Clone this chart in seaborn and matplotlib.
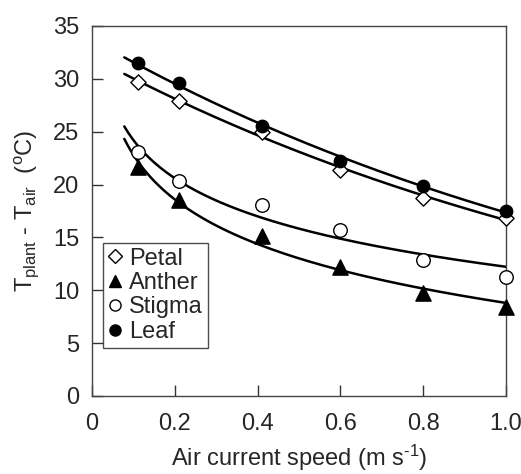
import numpy as np
import pandas as pd
import matplotlib
matplotlib.use("Agg")
import matplotlib.pyplot as plt
from matplotlib.lines import Line2D
import seaborn as sns

# Data
speed = [0.11, 0.21, 0.41, 0.60, 0.80, 1.00]
petal = [29.7, 27.9, 25.0, 21.4, 18.7, 16.8]
anther = [21.7, 18.5, 15.1, 12.2, 9.7, 8.4]
stigma = [23.1, 20.3, 18.1, 15.7, 12.9, 11.3]
leaf = [31.5, 29.6, 25.5, 22.2, 19.9, 17.5]

series_names = ["Petal", "Anther", "Stigma", "Leaf"]
series_vals = [petal, anther, stigma, leaf]
markers = {"Petal": "D", "Anther": "^", "Stigma": "o", "Leaf": "o"}
faces = {"Petal": "white", "Anther": "black", "Stigma": "white", "Leaf": "black"}
sizes = {"Petal": 60, "Anther": 120, "Stigma": 95, "Leaf": 80}
# trend type: exponential for petal/leaf, logarithmic for anther/stigma
fit_kind = {"Petal": "exp", "Anther": "log", "Stigma": "log", "Leaf": "exp"}

sns.set_style("ticks")
plt.rcParams["font.family"] = ["Liberation Sans", "DejaVu Sans"]
plt.rcParams["mathtext.fontset"] = "custom"
plt.rcParams["mathtext.rm"] = "Liberation Sans"
plt.rcParams["mathtext.it"] = "Liberation Sans:italic"
plt.rcParams["mathtext.bf"] = "Liberation Sans:bold"

FS = 17

fig = plt.figure(figsize=(5.21, 4.74), dpi=100)
ax = fig.add_axes([0.1766, 0.1646, 0.7946, 0.7806])

x = np.array(speed)
xs = np.linspace(0.078, 1.0, 200)
for name, vals in zip(series_names, series_vals):
    y = np.array(vals)
    if fit_kind[name] == "exp":
        b, a = np.polyfit(x, np.log(y), 1)
        ys = np.exp(a + b * xs)
    else:
        b, a = np.polyfit(np.log(x), y, 1)
        ys = a + b * np.log(xs)
    sns.lineplot(x=xs, y=ys, ax=ax, color="black", lw=1.8, zorder=2)

for name, vals in zip(series_names, series_vals):
    df = pd.DataFrame({"speed": speed, "dT": vals})
    sns.scatterplot(data=df, x="speed", y="dT", ax=ax, marker=markers[name],
                    s=sizes[name], facecolor=faces[name], edgecolor="black",
                    linewidth=1.0, zorder=3, clip_on=False)

ax.set_xlim(0, 1.0)
ax.set_ylim(0, 35)
ax.set_xticks([0, 0.2, 0.4, 0.6, 0.8, 1.0])
ax.set_xticklabels(["0", "0.2", "0.4", "0.6", "0.8", "1.0"])
ax.set_yticks(range(0, 36, 5))
ax.tick_params(direction="in", length=8, width=1, color="#333333",
               labelsize=FS, top=False, right=False)
ax.tick_params(axis="x", pad=12)
ax.tick_params(axis="y", pad=9)
for sp in ax.spines.values():
    sp.set_visible(True)
    sp.set_color("#444444")
    sp.set_linewidth(1.0)

ax.set_xlabel("Air current speed (m s$^{\u2010\\mathrm{1}}$)", fontsize=FS, labelpad=6)
ax.set_ylabel(r"T$_{\mathrm{plant}}$ - T$_{\mathrm{air}}$  ($^{\mathrm{o}}$C)",
              fontsize=FS, labelpad=9)

handles = [Line2D([], [], ls="none", marker=markers[n], markersize=8 if n != "Petal" else 7,
                  markerfacecolor=faces[n], markeredgecolor="black", markeredgewidth=1.0)
           for n in series_names]
leg = ax.legend(handles, series_names, loc="upper left", bbox_to_anchor=(0.027, 0.4135),
                borderaxespad=0, fontsize=FS, frameon=True, fancybox=False,
                handlelength=0.6, handletextpad=0.3, labelspacing=0.1, borderpad=0.2)
leg.get_frame().set_edgecolor("#222222")
leg.get_frame().set_linewidth(1.0)

fig.savefig("out.png", dpi=100)
